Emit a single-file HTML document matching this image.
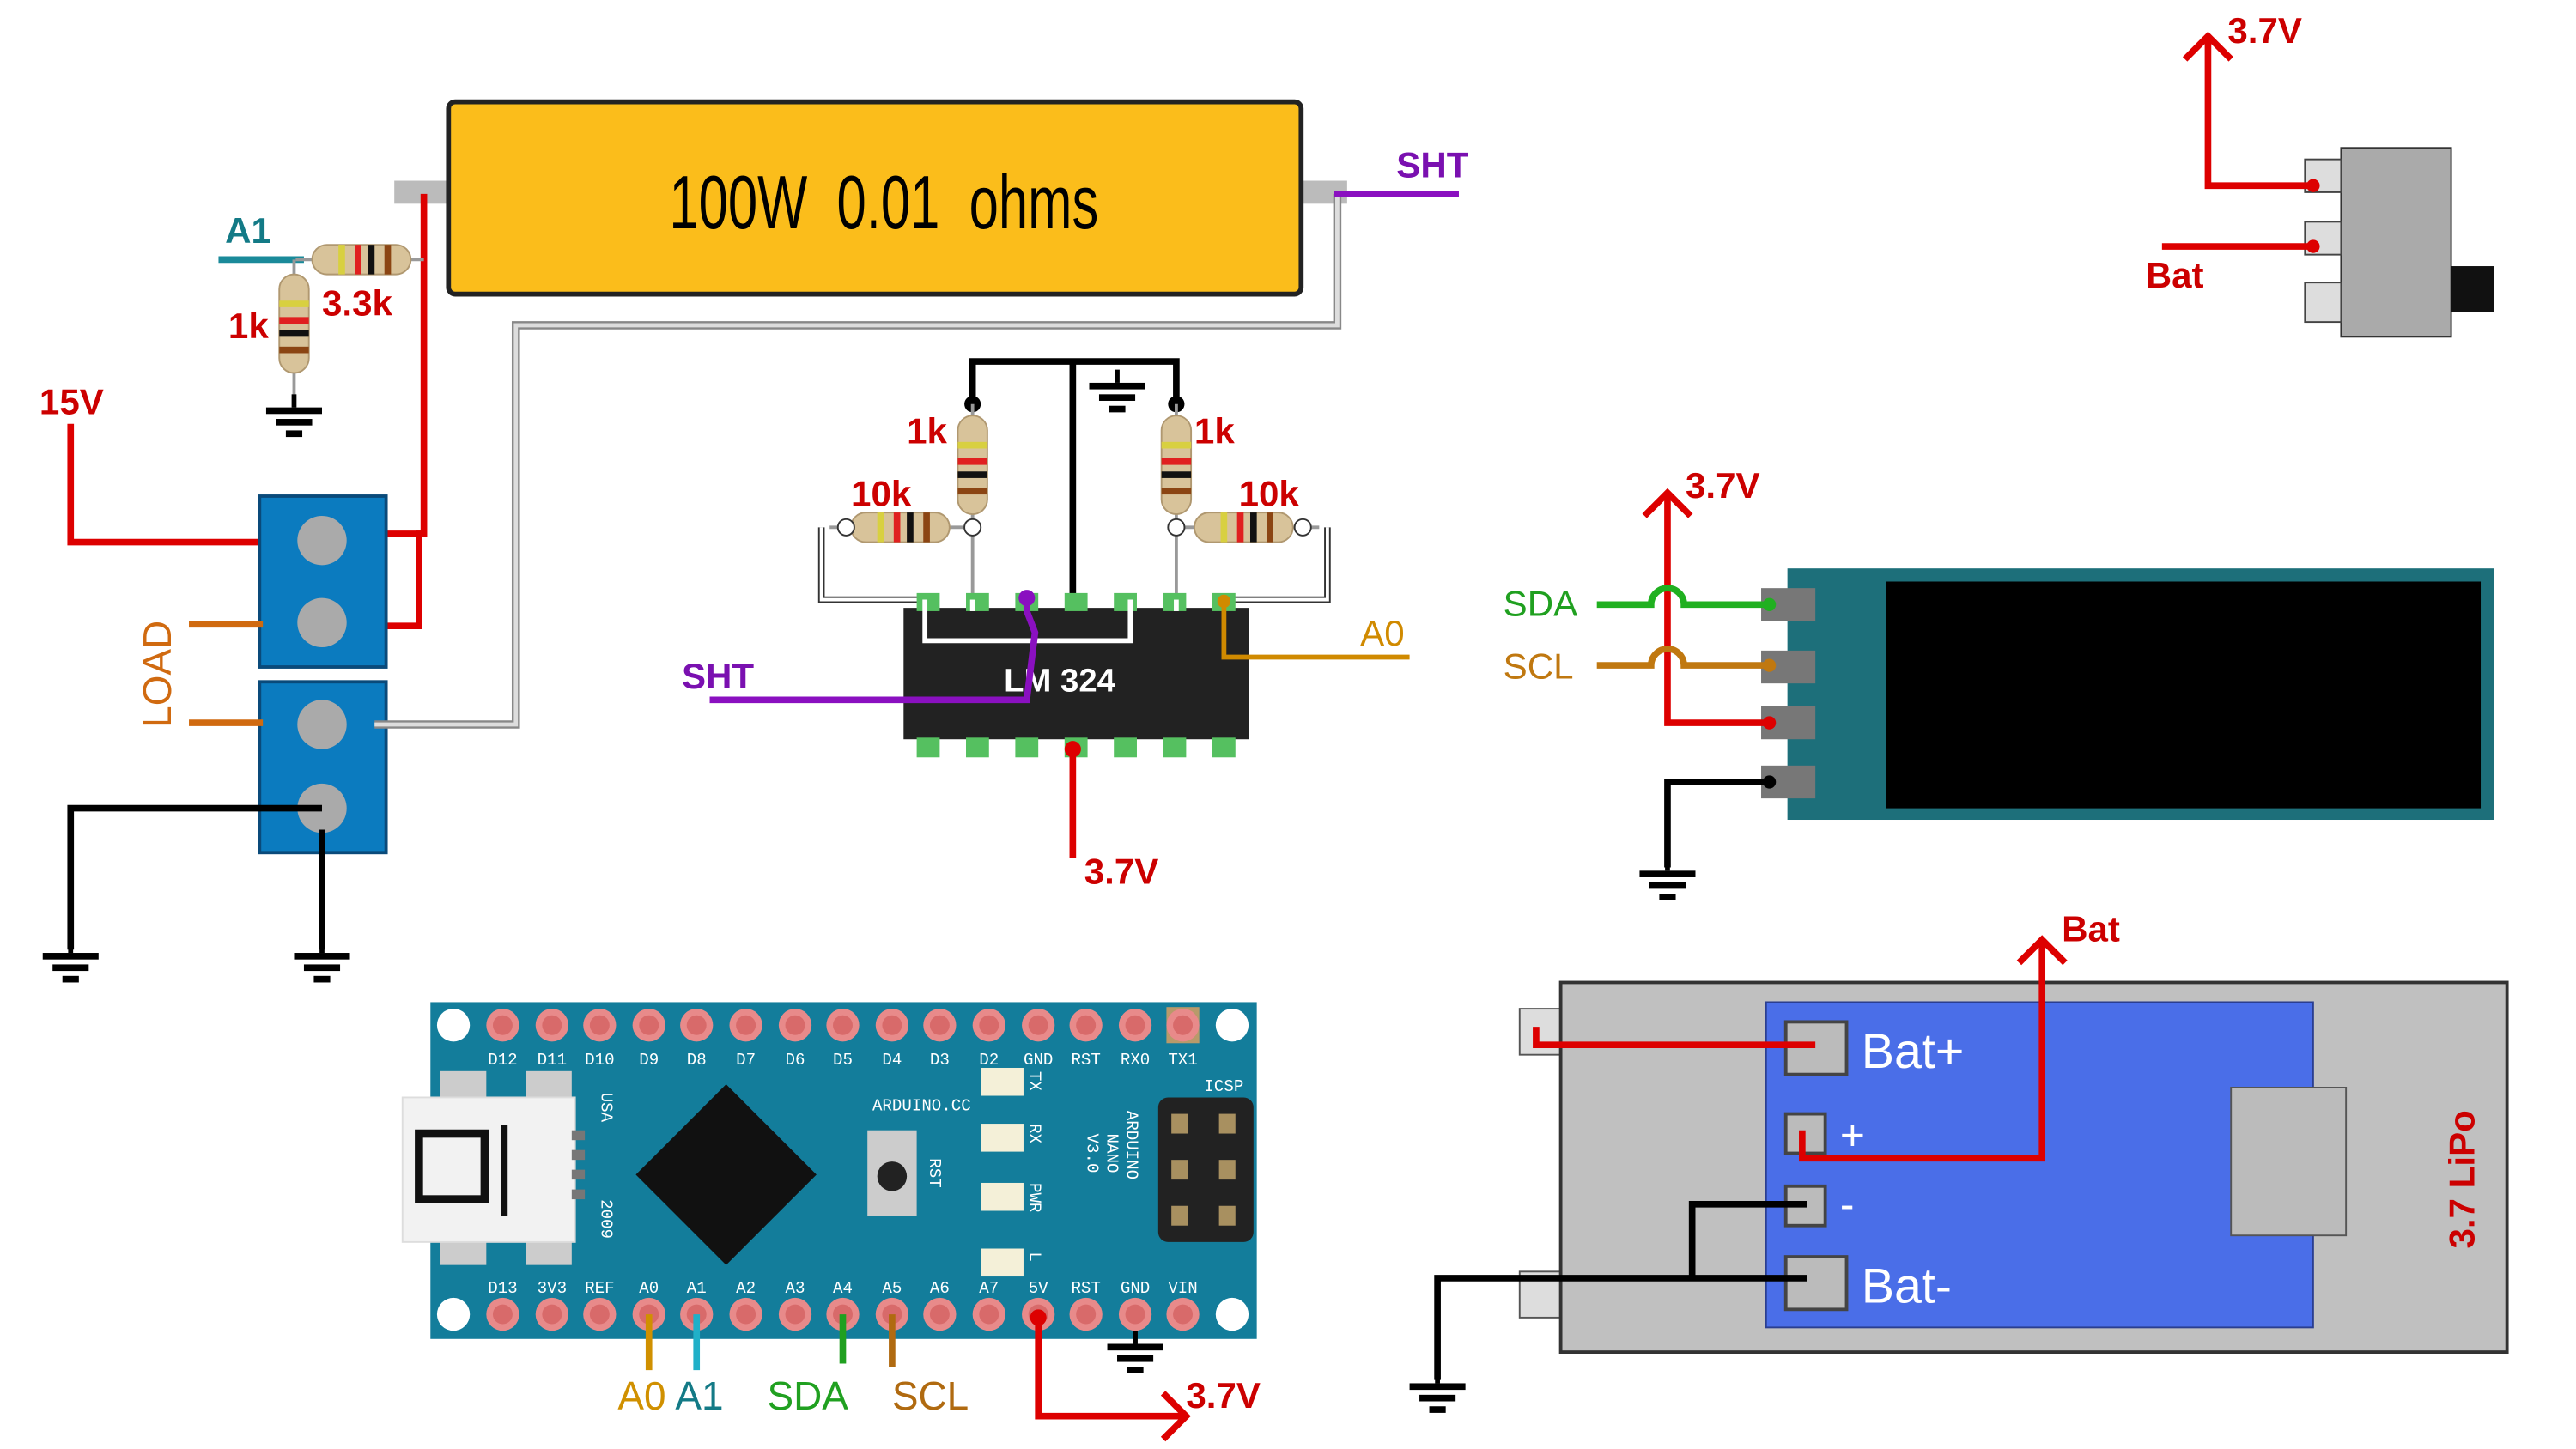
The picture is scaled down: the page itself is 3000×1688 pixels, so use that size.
<!DOCTYPE html>
<html><head><meta charset="utf-8"><style>
html,body{margin:0;padding:0;background:#fff}
svg{display:block}
text{font-family:"Liberation Sans",sans-serif;font-weight:bold}
.pl{font-family:"Liberation Mono",monospace;font-size:10px;fill:#fff;font-weight:normal}
</style></head><body>
<svg width="3000" height="1688" viewBox="0 0 1568 882" preserveAspectRatio="none" xmlns="http://www.w3.org/2000/svg">
<defs>
<g id="gnd"><line x1="0" y1="0" x2="0" y2="8" stroke="#000" stroke-width="3"/><rect x="-17" y="8" width="34" height="4"/><rect x="-11" y="15" width="22" height="4"/><rect x="-5" y="22" width="10" height="4"/></g>
<g id="resH"><rect x="-30" y="-9" width="60" height="18" rx="9" fill="#d8c39a" stroke="#b09870"/><rect x="-14" y="-9" width="4" height="18" fill="#d8d040"/><rect x="-4" y="-9" width="4" height="18" fill="#e02020"/><rect x="4" y="-9" width="4" height="18" fill="#111"/><rect x="14" y="-9" width="4" height="18" fill="#8b4513"/></g>
<g id="pin"><circle r="10" fill="#e88a8a"/><circle r="6" fill="#d86a6a"/></g>
</defs>

<!-- shunt resistor -->
<rect x="240" y="110" width="34" height="14" fill="#bbb"/>
<rect x="790" y="110" width="30" height="14" fill="#bbb"/>
<rect x="273" y="62" width="519" height="117" rx="4" fill="#fbbd1b" stroke="#222" stroke-width="3"/>
<text x="538" y="139" font-size="46" text-anchor="middle" transform="translate(538 0) scale(0.7 1) translate(-538 0)" style="font-weight:normal;white-space:pre" xml:space="preserve">100W  0.01  ohms</text>

<!-- wires left -->
<polyline points="258,118 258,325 230,325" fill="none" stroke="#d00" stroke-width="4"/>
<polyline points="258,325 255,325 255,381 222,381" fill="none" stroke="#d00" stroke-width="4"/>
<polyline points="43,258 43,330 160,330" fill="none" stroke="#d00" stroke-width="4"/>
<text x="24" y="252" font-size="22" fill="#c00">15V</text>
<line x1="133" y1="158" x2="185" y2="158" stroke="#1a8a9a" stroke-width="4"/>
<text x="137" y="148" font-size="22" fill="#137a86">A1</text>
<line x1="180" y1="158" x2="258" y2="158" stroke="#999" stroke-width="2"/>
<use href="#resH" x="220" y="158"/>
<line x1="179" y1="158" x2="179" y2="240" stroke="#999" stroke-width="2"/>
<use href="#resH" transform="translate(179 197) rotate(90)"/>
<text x="196" y="192" font-size="22" fill="#c00">3.3k</text>
<text x="139" y="206" font-size="22" fill="#c00">1k</text>
<use href="#gnd" x="179" y="240"/>

<!-- terminal blocks -->
<rect x="158" y="302" width="77" height="104" fill="#0b7bbf" stroke="#0a4a7a" stroke-width="2"/>
<rect x="158" y="415" width="77" height="104" fill="#0b7bbf" stroke="#0a4a7a" stroke-width="2"/>
<circle cx="196" cy="329" r="15" fill="#aaa"/><circle cx="196" cy="379" r="15" fill="#aaa"/>
<circle cx="196" cy="441" r="15" fill="#aaa"/><circle cx="196" cy="492" r="15" fill="#aaa"/>
<line x1="115" y1="380" x2="160" y2="380" stroke="#d06a10" stroke-width="4"/>
<line x1="115" y1="440" x2="160" y2="440" stroke="#d06a10" stroke-width="4"/>
<text x="0" y="0" font-size="24" fill="#d06a10" style="font-weight:normal" transform="translate(104 443) rotate(-90)">LOAD</text>
<polyline points="228,441 314,441 314,198 814,198 814,118" fill="none" stroke="#888" stroke-width="5"/>
<polyline points="228,441 314,441 314,198 814,198 814,118" fill="none" stroke="#ddd" stroke-width="2.5"/>
<polyline points="196,492 43,492 43,578" fill="none" stroke="#000" stroke-width="4"/>
<line x1="196" y1="505" x2="196" y2="578" stroke="#000" stroke-width="4"/>
<use href="#gnd" x="43" y="572"/>
<use href="#gnd" x="196" y="572"/>
<polyline points="812,118 888,118" fill="none" stroke="#8a10c0" stroke-width="4"/>
<text x="850" y="108" font-size="22" fill="#7a10b0">SHT</text>

<!-- LM324 area -->
<polyline points="592,246 592,220 716,220 716,246" fill="none" stroke="#000" stroke-width="4"/>
<line x1="653" y1="220" x2="653" y2="368" stroke="#000" stroke-width="4"/>
<use href="#gnd" x="680" y="225"/>
<circle cx="592" cy="246" r="5"/><circle cx="716" cy="246" r="5"/>
<line x1="592" y1="246" x2="592" y2="365" stroke="#999" stroke-width="2"/>
<line x1="716" y1="246" x2="716" y2="365" stroke="#999" stroke-width="2"/>
<use href="#resH" transform="translate(592 283) rotate(90)"/>
<use href="#resH" transform="translate(716 283) rotate(90)"/>
<polyline points="500,321 500,365 565,365" fill="none" stroke="#333" stroke-width="4"/>
<polyline points="500,321 500,365 565,365" fill="none" stroke="#fff" stroke-width="2"/>
<polyline points="808,321 808,365 745,365" fill="none" stroke="#333" stroke-width="4"/>
<polyline points="808,321 808,365 745,365" fill="none" stroke="#fff" stroke-width="2"/>
<line x1="505" y1="321" x2="592" y2="321" stroke="#999" stroke-width="2"/>
<line x1="716" y1="321" x2="803" y2="321" stroke="#999" stroke-width="2"/>
<use href="#resH" x="548" y="321"/>
<use href="#resH" x="757" y="321"/>
<circle cx="515" cy="321" r="5" fill="#fff" stroke="#333"/><circle cx="793" cy="321" r="5" fill="#fff" stroke="#333"/>
<circle cx="592" cy="321" r="5" fill="#fff" stroke="#333"/><circle cx="716" cy="321" r="5" fill="#fff" stroke="#333"/>
<text x="552" y="270" font-size="22" fill="#c00">1k</text>
<text x="727" y="270" font-size="22" fill="#c00">1k</text>
<text x="518" y="308" font-size="22" fill="#c00">10k</text>
<text x="754" y="308" font-size="22" fill="#c00">10k</text>
<rect x="550" y="370" width="210" height="80" fill="#222"/>
<g fill="#55c060">
<rect x="558" y="361" width="14" height="11"/><rect x="588" y="361" width="14" height="11"/><rect x="618" y="361" width="14" height="11"/><rect x="648" y="361" width="14" height="11"/><rect x="678" y="361" width="14" height="11"/><rect x="708" y="361" width="14" height="11"/><rect x="738" y="361" width="14" height="11"/>
<rect x="558" y="449" width="14" height="12"/><rect x="588" y="449" width="14" height="12"/><rect x="618" y="449" width="14" height="12"/><rect x="648" y="449" width="14" height="12"/><rect x="678" y="449" width="14" height="12"/><rect x="708" y="449" width="14" height="12"/><rect x="738" y="449" width="14" height="12"/>
</g>
<polyline points="563,365 563,390 688,390 688,365" fill="none" stroke="#fff" stroke-width="3"/>
<line x1="592" y1="365" x2="592" y2="372" stroke="#fff" stroke-width="3"/>
<line x1="716" y1="365" x2="716" y2="372" stroke="#fff" stroke-width="3"/>
<text x="645" y="421" font-size="20" fill="#fff" text-anchor="middle">LM 324</text>
<polyline points="625,362 625,372 630,385 625,426 432,426" fill="none" stroke="#8a10c0" stroke-width="4"/>
<circle cx="625" cy="364" r="5" fill="#8a10c0"/>
<text x="415" y="419" font-size="22" fill="#7a10b0">SHT</text>
<polyline points="745,365 745,400 858,400" fill="none" stroke="#d08a00" stroke-width="3"/>
<circle cx="745" cy="366" r="4" fill="#d08a00"/>
<text x="828" y="393" font-size="22" fill="#d08a00" style="font-weight:normal">A0</text>
<line x1="653" y1="455" x2="653" y2="522" stroke="#d00" stroke-width="4"/>
<circle cx="653" cy="456" r="5" fill="#d00"/>
<text x="660" y="538" font-size="22" fill="#c00">3.7V</text>

<!-- switch -->
<rect x="1425" y="90" width="67" height="115" fill="#aaa" stroke="#333"/>
<rect x="1403" y="97" width="22" height="20" fill="#ddd" stroke="#444"/>
<rect x="1403" y="135" width="22" height="20" fill="#ddd" stroke="#444"/>
<rect x="1403" y="172" width="22" height="24" fill="#ddd" stroke="#444"/>
<rect x="1492" y="162" width="26" height="28" fill="#111"/>
<polyline points="1408,113 1344,113 1344,22" fill="none" stroke="#d00" stroke-width="4"/>
<polyline points="1330,36 1344,22 1358,36" fill="none" stroke="#d00" stroke-width="4"/>
<circle cx="1408" cy="113" r="4" fill="#d00"/><circle cx="1408" cy="150" r="4" fill="#d00"/>
<text x="1356" y="26" font-size="22" fill="#c00">3.7V</text>
<line x1="1316" y1="150" x2="1408" y2="150" stroke="#d00" stroke-width="4"/>
<text x="1306" y="175" font-size="22" fill="#c00">Bat</text>

<!-- OLED -->
<rect x="1088" y="346" width="430" height="153" fill="#1d6f7a"/>
<rect x="1148" y="354" width="362" height="138" fill="#000"/>
<g fill="#777"><rect x="1072" y="358" width="33" height="20"/><rect x="1072" y="396" width="33" height="20"/><rect x="1072" y="430" width="33" height="20"/><rect x="1072" y="466" width="33" height="20"/></g>
<polyline points="1077,440 1015,440 1015,300" fill="none" stroke="#d00" stroke-width="4"/>
<polyline points="1001,314 1015,300 1029,314" fill="none" stroke="#d00" stroke-width="4"/>
<text x="1026" y="303" font-size="22" fill="#c00">3.7V</text>
<path d="M972,368 H1005 A10,10 0 0 1 1025,368 H1077" fill="none" stroke="#20b020" stroke-width="4"/>
<path d="M972,405 H1005 A10,10 0 0 1 1025,405 H1077" fill="none" stroke="#c07810" stroke-width="4"/>
<text x="915" y="375" font-size="22" fill="#20a020" style="font-weight:normal">SDA</text>
<text x="915" y="413" font-size="22" fill="#c07810" style="font-weight:normal">SCL</text>
<circle cx="1077" cy="368" r="4" fill="#20b020"/><circle cx="1077" cy="405" r="4" fill="#c07810"/><circle cx="1077" cy="440" r="4" fill="#d00"/><circle cx="1077" cy="476" r="4"/>
<polyline points="1077,476 1015,476 1015,528" fill="none" stroke="#000" stroke-width="4"/>
<use href="#gnd" x="1015" y="522"/>

<!-- charger -->
<rect x="925" y="614" width="26" height="28" fill="#ddd" stroke="#555"/>
<rect x="925" y="774" width="26" height="28" fill="#ddd" stroke="#555"/>
<rect x="950" y="598" width="576" height="225" fill="#c0c0c0" stroke="#333" stroke-width="2"/>
<rect x="1075" y="610" width="333" height="198" fill="#4a6ee8" stroke="#2a3e90"/>
<rect x="1358" y="662" width="70" height="90" fill="#bbb" stroke="#555"/>
<g fill="#bbb" stroke="#444" stroke-width="2"><rect x="1087" y="622" width="37" height="32"/><rect x="1087" y="678" width="24" height="24"/><rect x="1087" y="722" width="24" height="24"/><rect x="1087" y="765" width="37" height="32"/></g>
<text x="1133" y="650" font-size="30" fill="#fff" style="font-weight:normal">Bat+</text>
<text x="1120" y="700" font-size="26" fill="#fff" style="font-weight:normal">+</text>
<text x="1120" y="742" font-size="26" fill="#fff" style="font-weight:normal">-</text>
<text x="1133" y="793" font-size="30" fill="#fff" style="font-weight:normal">Bat-</text>
<text x="0" y="0" font-size="22" fill="#c00" transform="translate(1506 760) rotate(-90)">3.7 LiPo</text>
<polyline points="935,625 935,636 1105,636" fill="none" stroke="#d00" stroke-width="4"/>
<polyline points="1097,688 1097,705 1243,705 1243,572" fill="none" stroke="#d00" stroke-width="4"/>
<polyline points="1229,586 1243,572 1257,586" fill="none" stroke="#d00" stroke-width="4"/>
<text x="1255" y="573" font-size="22" fill="#c00">Bat</text>
<polyline points="1100,733 1030,733 1030,778" fill="none" stroke="#000" stroke-width="4"/>
<polyline points="1100,778 875,778 875,840" fill="none" stroke="#000" stroke-width="4"/>
<use href="#gnd" x="875" y="834"/>

<!-- Arduino -->
<rect x="262" y="610" width="503" height="205" fill="#137d9b"/>
<circle cx="276" cy="624" r="10" fill="#fff"/><circle cx="750" cy="624" r="10" fill="#fff"/>
<circle cx="276" cy="800" r="10" fill="#fff"/><circle cx="750" cy="800" r="10" fill="#fff"/>
<rect x="710" y="613" width="20" height="22" fill="#b89a6a"/>
<g>
<use href="#pin" x="306" y="624"/><use href="#pin" x="336" y="624"/><use href="#pin" x="365" y="624"/><use href="#pin" x="395" y="624"/><use href="#pin" x="424" y="624"/><use href="#pin" x="454" y="624"/><use href="#pin" x="484" y="624"/><use href="#pin" x="513" y="624"/><use href="#pin" x="543" y="624"/><use href="#pin" x="572" y="624"/><use href="#pin" x="602" y="624"/><use href="#pin" x="632" y="624"/><use href="#pin" x="661" y="624"/><use href="#pin" x="691" y="624"/><use href="#pin" x="720" y="624"/>
<use href="#pin" x="306" y="800"/><use href="#pin" x="336" y="800"/><use href="#pin" x="365" y="800"/><use href="#pin" x="395" y="800"/><use href="#pin" x="424" y="800"/><use href="#pin" x="454" y="800"/><use href="#pin" x="484" y="800"/><use href="#pin" x="513" y="800"/><use href="#pin" x="543" y="800"/><use href="#pin" x="572" y="800"/><use href="#pin" x="602" y="800"/><use href="#pin" x="632" y="800"/><use href="#pin" x="661" y="800"/><use href="#pin" x="691" y="800"/><use href="#pin" x="720" y="800"/>
</g>
<g class="pl" text-anchor="middle">
<text class="pl" x="306" y="648">D12</text><text class="pl" x="336" y="648">D11</text><text class="pl" x="365" y="648">D10</text><text class="pl" x="395" y="648">D9</text><text class="pl" x="424" y="648">D8</text><text class="pl" x="454" y="648">D7</text><text class="pl" x="484" y="648">D6</text><text class="pl" x="513" y="648">D5</text><text class="pl" x="543" y="648">D4</text><text class="pl" x="572" y="648">D3</text><text class="pl" x="602" y="648">D2</text><text class="pl" x="632" y="648">GND</text><text class="pl" x="661" y="648">RST</text><text class="pl" x="691" y="648">RX0</text><text class="pl" x="720" y="648">TX1</text>
<text class="pl" x="306" y="787">D13</text><text class="pl" x="336" y="787">3V3</text><text class="pl" x="365" y="787">REF</text><text class="pl" x="395" y="787">A0</text><text class="pl" x="424" y="787">A1</text><text class="pl" x="454" y="787">A2</text><text class="pl" x="484" y="787">A3</text><text class="pl" x="513" y="787">A4</text><text class="pl" x="543" y="787">A5</text><text class="pl" x="572" y="787">A6</text><text class="pl" x="602" y="787">A7</text><text class="pl" x="632" y="787">5V</text><text class="pl" x="661" y="787">RST</text><text class="pl" x="691" y="787">GND</text><text class="pl" x="720" y="787">VIN</text>
</g>
<rect x="268" y="652" width="28" height="118" fill="#ccc"/><rect x="320" y="652" width="28" height="118" fill="#ccc"/>
<rect x="245" y="668" width="105" height="88" fill="#f2f2f2" stroke="#ddd"/>
<rect x="255" y="690" width="40" height="40" fill="none" stroke="#111" stroke-width="5"/>
<rect x="305" y="685" width="4" height="55" fill="#111"/>
<g fill="#777"><rect x="348" y="688" width="8" height="6"/><rect x="348" y="700" width="8" height="6"/><rect x="348" y="712" width="8" height="6"/><rect x="348" y="724" width="8" height="6"/></g>
<text class="pl" transform="translate(366 665) rotate(90)">USA</text>
<text class="pl" transform="translate(366 730) rotate(90)">2009</text>
<polygon points="442,660 497,715 442,770 387,715" fill="#111"/>
<rect x="528" y="688" width="30" height="52" fill="#ccc"/><circle cx="543" cy="716" r="9" fill="#222"/>
<text class="pl" transform="translate(566 705) rotate(90)">RST</text>
<text class="pl" x="531" y="676">ARDUINO.CC</text>
<g fill="#f4f0d8"><rect x="597" y="650" width="26" height="17"/><rect x="597" y="684" width="26" height="17"/><rect x="597" y="720" width="26" height="17"/><rect x="597" y="760" width="26" height="17"/></g>
<text class="pl" transform="translate(627 652) rotate(90)">TX</text>
<text class="pl" transform="translate(627 684) rotate(90)">RX</text>
<text class="pl" transform="translate(627 720) rotate(90)">PWR</text>
<text class="pl" transform="translate(627 762) rotate(90)">L</text>
<text class="pl" transform="translate(686 676) rotate(90)">ARDUINO</text>
<text class="pl" transform="translate(674 690) rotate(90)">NANO</text>
<text class="pl" transform="translate(662 690) rotate(90)">V3.0</text>
<text class="pl" x="733" y="664">ICSP</text>
<rect x="705" y="668" width="58" height="88" rx="6" fill="#222"/>
<g fill="#a89060"><rect x="713" y="678" width="10" height="12"/><rect x="742" y="678" width="10" height="12"/><rect x="713" y="706" width="10" height="12"/><rect x="742" y="706" width="10" height="12"/><rect x="713" y="734" width="10" height="12"/><rect x="742" y="734" width="10" height="12"/></g>
<line x1="395" y1="800" x2="395" y2="834" stroke="#d09000" stroke-width="4"/>
<line x1="424" y1="800" x2="424" y2="834" stroke="#20b0c8" stroke-width="4"/>
<line x1="513" y1="800" x2="513" y2="830" stroke="#20a020" stroke-width="4"/>
<line x1="543" y1="800" x2="543" y2="832" stroke="#b06a10" stroke-width="4"/>
<text x="376" y="858" font-size="24" fill="#d09000" style="font-weight:normal">A0</text>
<text x="411" y="858" font-size="24" fill="#137a86" style="font-weight:normal">A1</text>
<text x="467" y="858" font-size="24" fill="#20a020" style="font-weight:normal">SDA</text>
<text x="543" y="858" font-size="24" fill="#b06a10" style="font-weight:normal">SCL</text>
<polyline points="632,802 632,862 720,862" fill="none" stroke="#d00" stroke-width="4"/>
<polyline points="708,848 722,862 708,876" fill="none" stroke="#d00" stroke-width="4"/>
<circle cx="632" cy="802" r="5" fill="#d00"/>
<text x="722" y="857" font-size="22" fill="#c00">3.7V</text>
<use href="#gnd" x="691" y="810"/>
</svg>
</body></html>
